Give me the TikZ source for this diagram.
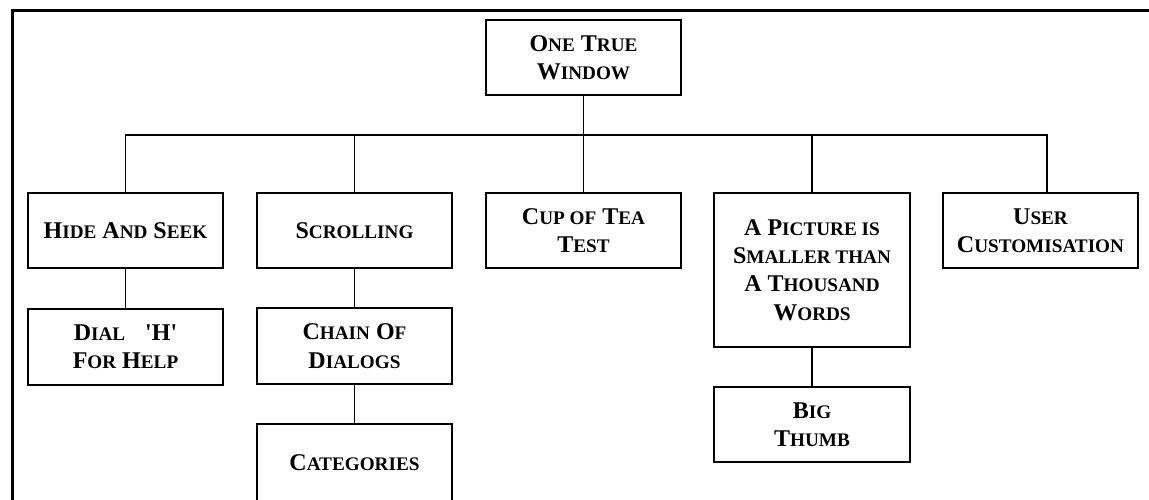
\documentclass[tikz,border=0pt]{standalone}
\usepackage{fontspec}
\newfontfamily\tnr{Liberation Serif}
\newcommand\sm[1]{{\fontsize{19.2}{28.3}\selectfont #1}}
\tikzset{
  box/.style={draw, line width=1.3pt, minimum width=195pt, minimum height=75pt,
    align=center, inner sep=2pt,
    font=\tnr\bfseries\fontsize{24}{28.3}\selectfont},
  link/.style={line width=1.2pt},
  frame/.style={line width=3pt}
}
\begin{document}
\begin{tikzpicture}[x=1pt,y=-1pt]
\useasboundingbox (0,0) rectangle (1149,499);
\clip (0,0) rectangle (1149,499);
\draw[frame] (12,520) -- (12,10) -- (1170,10);

\node[box] (root) at (583.5,57.5) {O\sm{NE} T\sm{RUE}\\W\sm{INDOW}};
\node[box] (hs) at (125.5,230.5) {H\sm{IDE} A\sm{ND} S\sm{EEK}};
\node[box] (sc) at (354.5,230.5) {S\sm{CROLLING}};
\node[box] (cup) at (583.5,230.5) {C\sm{UP OF} T\sm{EA}\\T\sm{EST}};
\node[box, minimum width=196pt, minimum height=154pt] (pic) at (812,270) {A P\sm{ICTURE IS}\\S\sm{MALLER THAN}\\A T\sm{HOUSAND}\\W\sm{ORDS}};
\node[box] (uc) at (1040.5,230.5) {U\sm{SER}\\C\sm{USTOMISATION}};
\node[box, minimum height=76pt] (dial) at (125.5,347) {D\sm{IAL}\hspace{20pt}\textquotesingle H\textquotesingle\\F\sm{OR} H\sm{ELP}};
\node[box, minimum height=76pt] (chain) at (354.5,346) {C\sm{HAIN} O\sm{F}\\D\sm{IALOGS}};
\node[box, minimum height=78pt] (cat) at (354.5,463) {C\sm{ATEGORIES}};
\node[box, minimum width=196pt] (bt) at (812,424.5) {B\sm{IG}\\T\sm{HUMB}};

\coordinate (bus) at (583.5,135);
\coordinate (ucin) at ([xshift=6.5pt]uc.north);
\draw[link] (root.south) -- (bus);
\draw[link] (bus) -| (hs.north);
\draw[link] (bus) -| (ucin);
\draw[link] (bus) -| (sc.north);
\draw[link] (bus) -- (cup.north);
\draw[link] (bus) -| (pic.north);
\draw[link] (hs.south) -- (dial.north);
\draw[link] (sc.south) -- (chain.north);
\draw[link] (chain.south) -- (cat.north);
\draw[link] (pic.south) -- (bt.north);
\end{tikzpicture}
\end{document}
